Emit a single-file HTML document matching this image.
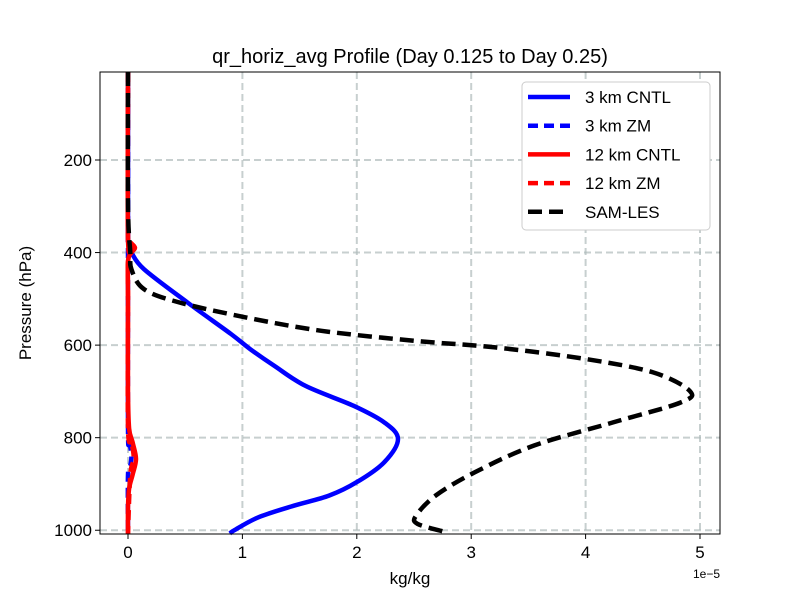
<!DOCTYPE html>
<html><head><meta charset="utf-8"><style>body{margin:0;background:#fff}svg{display:block}text{font-family:"Liberation Sans","DejaVu Sans",sans-serif}</style></head>
<body>
<svg id="chart" width="800" height="600" viewBox="0 0 800 600" xmlns="http://www.w3.org/2000/svg">
<rect width="800" height="600" fill="#fff"/>
<text x="410" y="63" font-size="20" text-anchor="middle">qr_horiz_avg Profile (Day 0.125 to Day 0.25)</text>
<g id="grid"></g><g id="series"></g><g id="axes"></g>
<text x="410" y="584" font-size="17" text-anchor="middle">kg/kg</text>
<text transform="translate(31,303) rotate(-90)" font-size="17" text-anchor="middle">Pressure (hPa)</text>
<text x="720" y="578" font-size="12" text-anchor="end">1e−5</text>
<g id="legend"></g>
</svg>
<script>
const xTicks=[0,1,2,3,4,5];
const yTicks=[200,400,600,800,1000];
const pCntl3=[10,300,370,390,400,436,508,576,609,645,688,731,767,803,853,896,925,947,972,1000,1007];
const xCntl3=[0,0,0,0.01,0.03,0.14,0.52,0.9,1.07,1.28,1.55,1.97,2.24,2.36,2.24,2.0,1.76,1.45,1.14,0.93,0.89];
const pZm3=[10,370,780,800,820,840,860,880,1007];
const xZm3=[0,0,0,0.01,0.02,0.03,0.02,0,0];
const pCntl12=[10,370,380,390,400,420,500,700,780,810,846,880,910,950,1007];
const xCntl12=[0,0,0.03,0.06,0.03,0,0,0,0.01,0.04,0.07,0.04,0.01,0,0];
const pZm12=[10,370,380,390,400,420,500,780,810,846,880,1007];
const xZm12=[0,0,0.03,0.06,0.03,0,0,0,0.03,0.05,0.02,0];
const pLes=[10,300,400,436,479,508,540,569,591,605,630,659,699,724,767,817,875,925,968,986,1003,1007];
const xLes=[0,0,0.02,0.03,0.14,0.45,1.03,1.69,2.52,3.21,4.0,4.59,4.91,4.83,4.24,3.55,3.03,2.69,2.52,2.53,2.76,2.8];
const L=100,R=720,T=72,B=534;
const xs=v=>128+v*114.4;
const ys=p=>160+(p-200)*0.4628;
const NS="http://www.w3.org/2000/svg";
function mk(parent,tag,attrs){const e=document.createElementNS(NS,tag);for(const k in attrs)e.setAttribute(k,attrs[k]);document.getElementById(parent).appendChild(e);return e;}
function smooth(pts){let d='M'+pts[0][0].toFixed(1)+','+pts[0][1].toFixed(1);
 for(let i=0;i<pts.length-1;i++){const p0=pts[Math.max(0,i-1)],p1=pts[i],p2=pts[i+1],p3=pts[Math.min(pts.length-1,i+2)];
  const c1=[p1[0]+(p2[0]-p0[0])/6,p1[1]+(p2[1]-p0[1])/6],c2=[p2[0]-(p3[0]-p1[0])/6,p2[1]-(p3[1]-p1[1])/6];
  d+='C'+c1.map(v=>v.toFixed(1)).join(',')+' '+c2.map(v=>v.toFixed(1)).join(',')+' '+p2[0].toFixed(1)+','+p2[1].toFixed(1);}
 return d;}
xTicks.forEach(t=>{
 const g=mk('grid','line',{x1:xs(t),x2:xs(t),y1:T,y2:B,stroke:'#b0bcbc','stroke-width':2,'stroke-dasharray':'7,4',opacity:0.7});
 
 
 const tk=mk('axes','line',{x1:xs(t),x2:xs(t),y1:B,y2:B+5,stroke:'#000'});
 
 
 const tx=mk('axes','text',{x:xs(t),y:B+24,'font-size':17,'text-anchor':'middle'});tx.textContent=t;
 
 
});
yTicks.forEach(t=>{
 const g=mk('grid','line',{x1:L,x2:R,y1:ys(t),y2:ys(t),stroke:'#b0bcbc','stroke-width':2,'stroke-dasharray':'7,4',opacity:0.7});
 
 
 const tk=mk('axes','line',{x1:L-5,x2:L,y1:ys(t),y2:ys(t),stroke:'#000'});
 
 
 const tx=mk('axes','text',{x:L-8,y:ys(t)+6,'font-size':17,'text-anchor':'end'});tx.textContent=t;
 
 
});
const frame=mk('axes','rect',{x:L,y:T,width:R-L,height:B-T,fill:'none',stroke:'#000','stroke-width':1});


const series=[
 {n:'series-3km-cntl',p:pCntl3,x:xCntl3,c:'#0000ff',d:''},
 {n:'series-3km-zm',p:pZm3,x:xZm3,c:'#0000ff',d:'10,6'},
 {n:'series-12km-cntl',p:pCntl12,x:xCntl12,c:'#ff0000',d:''},
 {n:'series-12km-zm',p:pZm12,x:xZm12,c:'#ff0000',d:'10,6'},
 {n:'series-sam-les',p:pLes,x:xLes,c:'#000000',d:'14,7'}];
series.forEach(s=>{
 const pts=s.p.map((p,i)=>[xs(s.x[i]),ys(p)]);
 const e=mk('series','path',{d:smooth(pts),fill:'none',stroke:s.c,'stroke-width':4.5,'stroke-dasharray':s.d,'stroke-linejoin':'round'});
 
 
});
const lb=mk('legend','rect',{x:522,y:82,width:188,height:148,rx:4,fill:'#fff',stroke:'#ccc'});


const names=['3 km CNTL','3 km ZM','12 km CNTL','12 km ZM','SAM-LES'];
series.forEach((s,i)=>{
 const y=97+i*28.7;
 const l=mk('legend','line',{x1:528,x2:570,y1:y,y2:y,stroke:s.c,'stroke-width':4.5,'stroke-dasharray':s.d});
 
 
 const t=mk('legend','text',{x:585,y:y+6,'font-size':17});t.textContent=names[i];
 
 
});
</script>
</body></html>
